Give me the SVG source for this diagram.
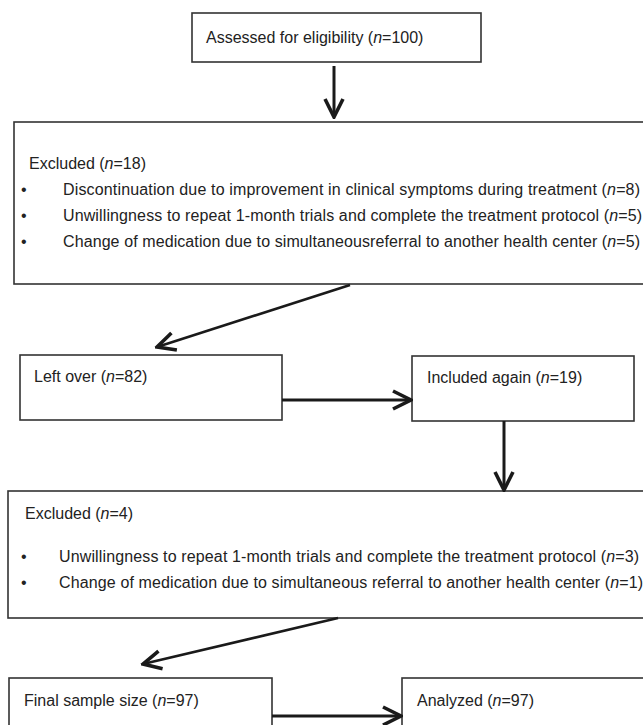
<svg xmlns="http://www.w3.org/2000/svg" width="643" height="725" viewBox="0 0 643 725">
<style>
.box{fill:#fff;stroke:#333;stroke-width:1.6}
.t{font-family:"Liberation Sans",Arial,sans-serif;font-size:16px;fill:#222}
.i{font-style:italic}
.con{stroke:#1a1a1a;stroke-width:3;fill:none}
.dg{stroke-width:2.6}
</style>
<defs>
<marker id="ah" markerUnits="userSpaceOnUse" markerWidth="24" markerHeight="24" viewBox="-18 -10 20 20" refX="0" refY="0" orient="auto">
<path d="M-15,-7.5 L0,0 L-15,7.5" fill="none" stroke="#1a1a1a" stroke-width="3" stroke-linejoin="miter"/>
</marker>
</defs>
<rect width="643" height="725" fill="#fff"/>
<g id="assessed">
<rect class="box" x="192" y="13" width="289" height="49"/>
<text class="t" x="206" y="43">Assessed for eligibility (<tspan class="i">n</tspan>=100)</text>
</g>
<g id="excluded1">
<rect class="box" x="14" y="122" width="660" height="162"/>
<text class="t" x="29" y="169">Excluded (<tspan class="i">n</tspan>=18)</text>
<text class="t" x="21" y="195">•</text>
<text class="t" x="63" y="195" textLength="577" lengthAdjust="spacing">Discontinuation due to improvement in clinical symptoms during treatment (<tspan class="i">n</tspan>=8)</text>
<text class="t" x="21" y="221">•</text>
<text class="t" x="63" y="221" textLength="579" lengthAdjust="spacing">Unwillingness to repeat 1-month trials and complete the treatment protocol (<tspan class="i">n</tspan>=5)</text>
<text class="t" x="21" y="247">•</text>
<text class="t" x="63" y="247" textLength="577" lengthAdjust="spacing">Change of medication due to simultaneousreferral to another health center (<tspan class="i">n</tspan>=5)</text>
</g>
<g id="leftover">
<rect class="box" x="20" y="355" width="262" height="65"/>
<text class="t" x="34" y="382">Left over (<tspan class="i">n</tspan>=82)</text>
</g>
<g id="included">
<rect class="box" x="412" y="356" width="222" height="65"/>
<text class="t" x="427" y="383">Included again (<tspan class="i">n</tspan>=19)</text>
</g>
<g id="excluded2">
<rect class="box" x="8" y="491" width="660" height="127"/>
<text class="t" x="25" y="519">Excluded (<tspan class="i">n</tspan>=4)</text>
<text class="t" x="21" y="562">•</text>
<text class="t" x="59" y="562" textLength="580" lengthAdjust="spacing">Unwillingness to repeat 1-month trials and complete the treatment protocol (<tspan class="i">n</tspan>=3)</text>
<text class="t" x="21" y="588">•</text>
<text class="t" x="59" y="588" textLength="584" lengthAdjust="spacing">Change of medication due to simultaneous referral to another health center (<tspan class="i">n</tspan>=1)</text>
</g>
<g id="final">
<rect class="box" x="9" y="678" width="263" height="70"/>
<text class="t" x="24" y="706">Final sample size (<tspan class="i">n</tspan>=97)</text>
</g>
<g id="analyzed">
<rect class="box" x="402" y="678" width="270" height="70"/>
<text class="t" x="417" y="706">Analyzed (<tspan class="i">n</tspan>=97)</text>
</g>
<g id="connectors">
<line class="con" x1="334" y1="66" x2="334" y2="117" marker-end="url(#ah)"/>
<line class="con dg" x1="350" y1="285" x2="157" y2="347" marker-end="url(#ah)"/>
<line class="con" x1="282" y1="400" x2="411" y2="400" marker-end="url(#ah)"/>
<line class="con" x1="504" y1="421" x2="504" y2="490" marker-end="url(#ah)"/>
<line class="con dg" x1="338" y1="618" x2="143" y2="664" marker-end="url(#ah)"/>
<line class="con" x1="272" y1="716" x2="401" y2="716" marker-end="url(#ah)"/>
</g>
</svg>
